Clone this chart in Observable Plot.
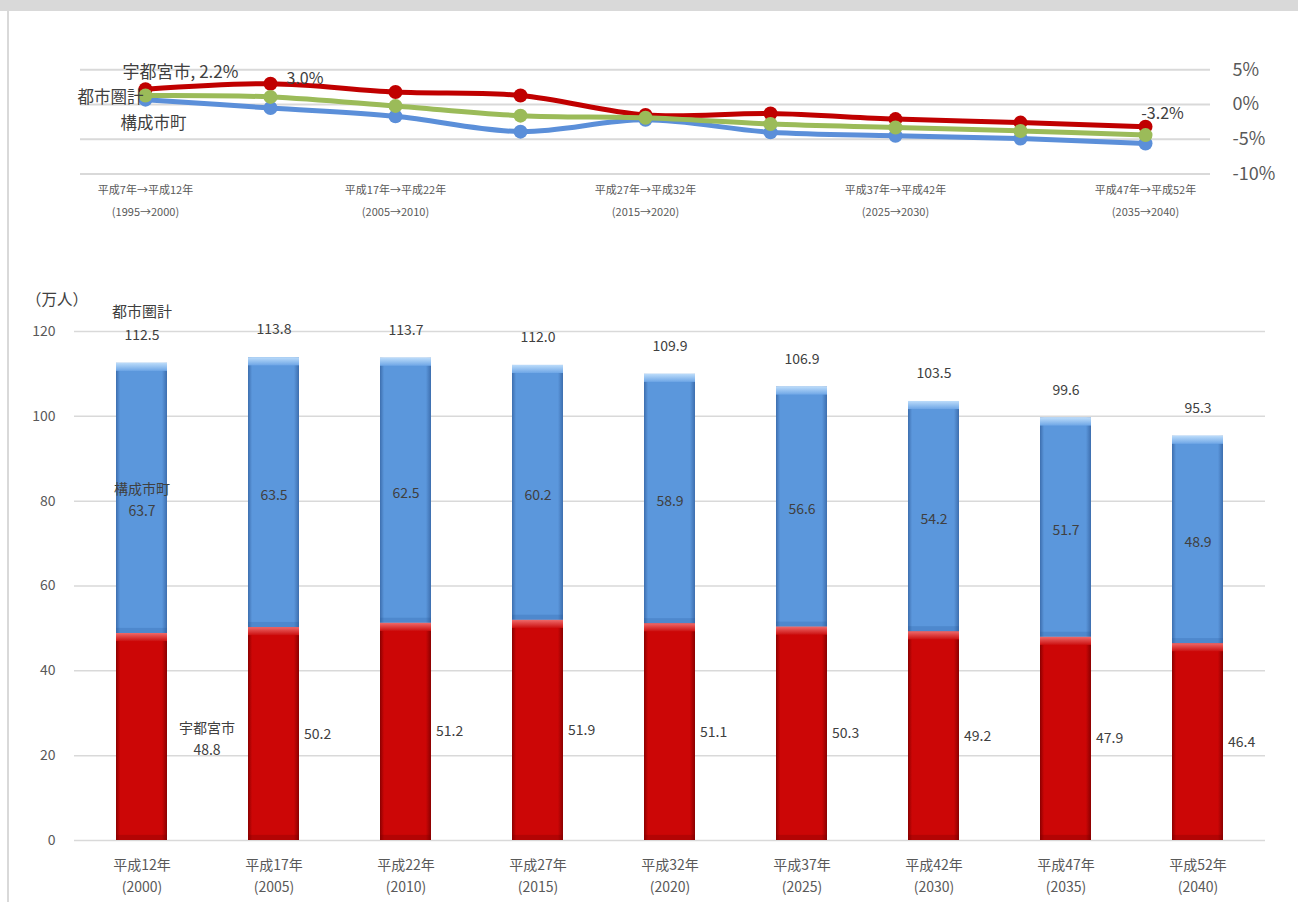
<!DOCTYPE html>
<html><head><meta charset="utf-8">
<script src="https://cdn.jsdelivr.net/npm/d3@7"></script>
<script src="https://cdn.jsdelivr.net/npm/@observablehq/plot@0.6"></script>
<style>
body{margin:0;background:#fff;font-family:"Noto Sans CJK JP","Noto Sans",sans-serif;}
#wrap{position:relative;width:1298px;height:902px;overflow:hidden;background:#fff;}
#band{position:absolute;left:0;top:0;width:1298px;height:11px;background:#d9d9d9;}
#lborder{position:absolute;left:7px;top:11px;width:2px;height:891px;background:#d9d9d9;}
#unit{position:absolute;left:26px;top:288px;font-size:15.5px;color:#404040;line-height:20px;}
#top{position:absolute;left:0;top:0;}
#bottom{position:absolute;left:0;top:280px;}
</style></head>
<body>
<div id="wrap">
  <div id="band"></div>
  <div id="lborder"></div>
  <div id="top"></div>
  <div id="unit">（万人）</div>
  <div id="bottom"></div>
</div>
<script>
const FONT = '"Noto Sans CJK JP","Noto Sans",sans-serif';

// ---- growth-rate line chart data ----
const periods = [
  "平成7年→平成12年\n(1995→2000)",
  "平成12年→平成17年\n(2000→2005)",
  "平成17年→平成22年\n(2005→2010)",
  "平成22年→平成27年\n(2010→2015)",
  "平成27年→平成32年\n(2015→2020)",
  "平成32年→平成37年\n(2020→2025)",
  "平成37年→平成42年\n(2025→2030)",
  "平成42年→平成47年\n(2030→2035)",
  "平成47年→平成52年\n(2035→2040)"
];
const periodTicks = [periods[0], periods[2], periods[4], periods[6], periods[8]];
const cityRate    = [2.2, 3.0, 1.8, 1.3, -1.5, -1.3, -2.1, -2.6, -3.2];
const membersRate = [0.7, -0.5, -1.7, -3.9, -2.2, -4.0, -4.5, -4.9, -5.6];
const totalRate   = [1.3, 1.1, -0.2, -1.6, -1.9, -2.8, -3.3, -3.8, -4.4];
const rateTicks = [-10, -5, 0, 5];

// ---- population bar chart data ----
const years = [
  "平成12年\n(2000)", "平成17年\n(2005)", "平成22年\n(2010)", "平成27年\n(2015)",
  "平成32年\n(2020)", "平成37年\n(2025)", "平成42年\n(2030)", "平成47年\n(2035)", "平成52年\n(2040)"
];
const cityPop    = [48.8, 50.2, 51.2, 51.9, 51.1, 50.3, 49.2, 47.9, 46.4];
const membersPop = [63.7, 63.5, 62.5, 60.2, 58.9, 56.6, 54.2, 51.7, 48.9];
const totalPop   = [112.5, 113.8, 113.7, 112.0, 109.9, 106.9, 103.5, 99.6, 95.3];
const popTicks = [0, 20, 40, 60, 80, 100, 120];

const RED = "#c00000", BLUE = "#5b8fd9", GREEN = "#9bbb59";

const rateRows = (arr) => periods.map((p, i) => ({period: p, value: arr[i], i}));
const cityR = rateRows(cityRate), memR = rateRows(membersRate), totR = rateRows(totalRate);

const lineMarks = (rows, color) => [
  Plot.line(rows, {x: "period", y: "value", stroke: color, strokeWidth: 5, curve: "catmull-rom"}),
  Plot.dot(rows, {x: "period", y: "value", fill: color, r: 7})
];

const topPlot = Plot.plot({
  width: 1298, height: 230,
  marginLeft: 80, marginRight: 88, marginTop: 69.3, marginBottom: 56.5,
  style: {background: "transparent", fontFamily: FONT, color: "#595959", overflow: "visible"},
  x: {type: "point", domain: periods, padding: 0.5, axis: null},
  y: {domain: [-10, 5], axis: null},
  marks: [
    Plot.gridY(rateTicks, {stroke: "#d9d9d9", strokeOpacity: 1, strokeWidth: 2}),
    Plot.axisY(rateTicks, {anchor: "right", label: null, tickSize: 0, tickPadding: 22, textAnchor: "start",
      tickFormat: d => d + "%", fontSize: 18, fill: "#595959"}),
    Plot.axisX(periodTicks, {anchor: "bottom", label: null, tickSize: 0, tickPadding: 5, fontSize: 11,
      lineHeight: 1.95, fill: "#595959", tickFormat: d => d}),
    ...lineMarks(cityR, RED),
    ...lineMarks(memR, BLUE),
    ...lineMarks(totR, GREEN),
    Plot.text([cityR[0]], {x: "period", y: "value", text: d => "宇都宮市, " + d.value.toFixed(1) + "%",
      dx: 35, dy: -17, fontSize: 17, fill: "#404040"}),
    Plot.text([cityR[1]], {x: "period", y: "value", text: d => d.value.toFixed(1) + "%",
      textAnchor: "start", dx: 16, dy: -5, fontSize: 16, fill: "#404040"}),
    Plot.text([cityR[8]], {x: "period", y: "value", text: d => d.value.toFixed(1) + "%",
      dx: 17, dy: -13, fontSize: 16, fill: "#404040"}),
    Plot.text([totR[0]], {x: "period", y: "value", text: () => "都市圏計",
      textAnchor: "end", dx: -2, dy: 2, fontSize: 16.5, fill: "#404040"}),
    Plot.text([memR[0]], {x: "period", y: "value", text: () => "構成市町",
      dx: 8, dy: 24, fontSize: 16.5, fill: "#404040"})
  ]
});
document.getElementById("top").appendChild(topPlot);

const rows = years.map((y, i) => ({year: y, city: cityPop[i], members: membersPop[i], total: totalPop[i], i}));

const bottomPlot = Plot.plot({
  width: 1298, height: 622,
  marginLeft: 74, marginRight: 33, marginTop: 51, marginBottom: 62,
  style: {background: "transparent", fontFamily: FONT, color: "#595959", overflow: "visible"},
  x: {type: "band", domain: years, paddingInner: 0.61, paddingOuter: 0.305, axis: null},
  y: {domain: [0, 120], axis: null},
  marks: [
    Plot.gridY(popTicks, {stroke: "#d9d9d9", strokeOpacity: 1, strokeWidth: 1.5}),
    Plot.axisY(popTicks, {anchor: "left", label: null, tickSize: 0, tickPadding: 19, fontSize: 14, fill: "#595959"}),
    Plot.axisX(years, {anchor: "bottom", label: null, tickSize: 0, tickPadding: 14, fontSize: 14,
      lineHeight: 1.57, fill: "#595959", tickFormat: d => d}),
    Plot.barY(rows, {x: "year", y1: 0, y2: "city", fill: RED}),
    Plot.barY(rows, {x: "year", y1: "city", y2: "total", fill: BLUE}),
    Plot.barY(rows, {x: "year", y1: d => d.city - 1.9, y2: "city", fill: "#e04040"}),
    Plot.barY(rows, {x: "year", y1: d => d.total - 1.9, y2: "total", fill: "#a8cdf5"}),
    Plot.barY(rows, {x: "year", y1: 0, y2: d => 1.2, fill: "#7a0000", fillOpacity: 0.3}),
    Plot.barY(rows, {x: "year", y1: "city", y2: d => d.city + 1.2, fill: "#1f4f8f", fillOpacity: 0.2}),
    Plot.text(rows, {x: "year", y: "total", text: d => d.total.toFixed(1), dy: -28,
      fontSize: 14, fill: "#404040"}),
    Plot.text([rows[0]], {x: "year", y: "total", text: () => "都市圏計", dy: -51,
      fontSize: 15, fill: "#404040"}),
    Plot.text(rows, {x: "year", y: d => (d.city + d.total) / 2,
      text: d => (d.i === 0 ? "構成市町\n" : "") + d.members.toFixed(1),
      lineHeight: 1.57, fontSize: 14, fill: "#404040"}),
    Plot.text(rows.filter(d => d.i > 0), {x: "year", y: d => d.city / 2, text: d => d.city.toFixed(1),
      textAnchor: "start", dx: 30, fontSize: 14, fill: "#404040"}),
    Plot.text([rows[0]], {x: "year", y: d => d.city / 2, text: d => "宇都宮市\n" + d.city.toFixed(1),
      dx: 65, lineHeight: 1.57, fontSize: 14, fill: "#404040"})
  ]
});
document.getElementById("bottom").appendChild(bottomPlot);

// gradients for the bevelled bar look
const svg = d3.select(bottomPlot);
const defs = svg.insert("defs", ":first-child");
function hgrad(id, edge, main) {
  const g = defs.append("linearGradient").attr("id", id).attr("x1", 0).attr("x2", 1).attr("y1", 0).attr("y2", 0);
  [[0, edge], [0.08, main], [0.9, main], [1, edge]].forEach(([o, c]) =>
    g.append("stop").attr("offset", o).attr("stop-color", c));
}
function vgrad(id, c1, c2) {
  const g = defs.append("linearGradient").attr("id", id).attr("x1", 0).attr("x2", 0).attr("y1", 0).attr("y2", 1);
  g.append("stop").attr("offset", 0).attr("stop-color", c1);
  g.append("stop").attr("offset", 1).attr("stop-color", c2);
}
hgrad("gRed", "#8a0000", "#cc0606");
hgrad("gBlue", "#3d6eae", "#5b97dc");
vgrad("gRedTop", "#ee6a6a", "#cc1010");
vgrad("gBlueTop", "#bcdcfa", "#6ea6e6");
const barGroups = svg.selectAll('g[aria-label="bar"]').nodes();
const fills = ["url(#gRed)", "url(#gBlue)", "url(#gRedTop)", "url(#gBlueTop)"];
fills.forEach((f, k) => { if (barGroups[k]) d3.select(barGroups[k]).selectAll("rect").attr("fill", f); });
</script>
</body></html>
